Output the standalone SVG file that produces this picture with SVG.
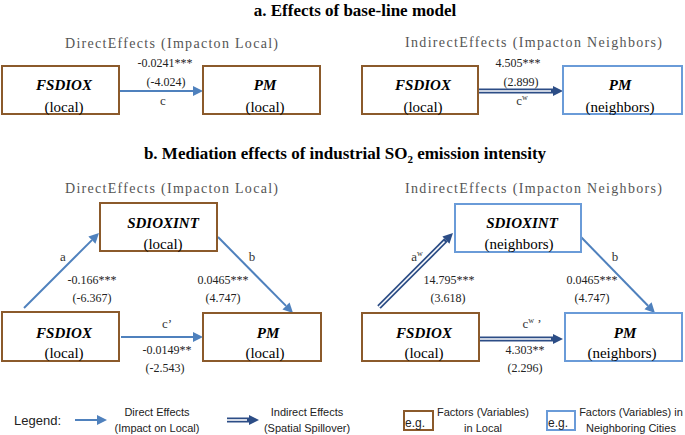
<svg xmlns="http://www.w3.org/2000/svg" width="685" height="435" viewBox="0 0 685 435">
<style>
.title{font-family:"Liberation Serif","Times New Roman","DejaVu Serif",serif;font-weight:bold;font-size:17px;fill:#000;text-anchor:middle}
.head{font-family:"Liberation Serif","Times New Roman","DejaVu Serif",serif;font-size:14px;fill:#555}
.nm{font-family:"Liberation Serif","Times New Roman","DejaVu Serif",serif;font-weight:bold;font-style:italic;font-size:15px;fill:#000;text-anchor:middle}
.sub{font-family:"Liberation Serif","Times New Roman","DejaVu Serif",serif;font-size:15px;fill:#000;text-anchor:middle}
.num{font-family:"Liberation Serif","Times New Roman","DejaVu Serif",serif;font-size:12px;fill:#222;text-anchor:middle}
.lab{font-family:"Liberation Serif","Times New Roman","DejaVu Serif",serif;font-size:13px;fill:#333;text-anchor:middle}
.leg{font-family:"Liberation Sans",Arial,sans-serif;font-size:11px;fill:#222;text-anchor:middle}
.eg{font-family:"Liberation Sans",Arial,sans-serif;font-size:12px;fill:#222}
.loc{fill:#fff;stroke:#8b5a2b;stroke-width:2}
.nbr{fill:#fff;stroke:#6a9bd8;stroke-width:2}
.dir{fill:none;stroke:#4f81bd;stroke-width:2}
.ind{fill:none;stroke:#2c4d86;stroke-width:5}
.indw{fill:none;stroke:#fff;stroke-width:1.6}
</style>
<defs>
<marker id="hb" markerUnits="userSpaceOnUse" viewBox="0 -5 10 10" markerWidth="10" markerHeight="10" refX="0" refY="0" orient="auto" overflow="visible"><path d="M0,-5 L10,0 L0,5 z" fill="#4f81bd"/></marker>
<marker id="hd" markerUnits="userSpaceOnUse" viewBox="0 -5 10 10" markerWidth="10" markerHeight="10" refX="0" refY="0" orient="auto" overflow="visible"><path d="M0,-5 L10,0 L0,5 z" fill="#2c4d86"/></marker>
</defs>

<text class="title" x="355" y="16">a. Effects of base-line model</text>
<text class="title" x="345" y="159">b. Mediation effects of industrial SO<tspan font-size="11" dy="4">2</tspan><tspan dy="-4"> emission intensity</tspan></text>

<text class="head" x="65" y="48" textLength="213">DirectEffects (Impacton Local)</text>
<text class="head" x="405" y="47" textLength="257">IndirectEffects (Impacton Neighbors)</text>
<text class="head" x="65" y="193" textLength="213">DirectEffects (Impacton Local)</text>
<text class="head" x="405" y="193" textLength="257">IndirectEffects (Impacton Neighbors)</text>

<g id="connectors">
<path class="dir" d="M120,91 L193,91" marker-end="url(#hb)"/>
<path class="ind" d="M479,91 L553,91" marker-end="url(#hd)"/>
<path class="indw" d="M479,91 L551,91"/>
<path class="dir" d="M24,308 L91.9,240.1" marker-end="url(#hb)"/>
<path class="dir" d="M218,237 L286,305.9" marker-end="url(#hb)"/>
<path class="dir" d="M121,337 L193,337" marker-end="url(#hb)"/>
<path class="ind" d="M379,307 L445.9,240.1" marker-end="url(#hd)"/>
<path class="indw" d="M379,307 L444.5,241.5"/>
<path class="dir" d="M581,237 L648,305.8" marker-end="url(#hb)"/>
<path class="ind" d="M480,339 L553,339" marker-end="url(#hd)"/>
<path class="indw" d="M480,339 L551,339"/>
<path class="dir" d="M75,420 L97,420" marker-end="url(#hb)"/>
<path class="ind" d="M227,420 L249,420" marker-end="url(#hd)"/>
<path class="indw" d="M227,420 L247,420"/>
</g>

<g id="a-fsdiox-local"><rect class="loc" x="2" y="66" width="117" height="48"/><text class="nm" x="64" y="90">FSDIOX</text><text class="sub" x="64" y="112">(local)</text></g>
<g id="a-pm-local"><rect class="loc" x="203" y="66" width="117" height="48"/><text class="nm" x="265" y="90">PM</text><text class="sub" x="265" y="112">(local)</text></g>
<g id="a-fsdiox-local2"><rect class="loc" x="362" y="66" width="116" height="48"/><text class="nm" x="423" y="90">FSDIOX</text><text class="sub" x="423" y="112">(local)</text></g>
<g id="a-pm-neighbors"><rect class="nbr" x="563" y="66" width="119" height="48"/><text class="nm" x="620" y="90">PM</text><text class="sub" x="620" y="112">(neighbors)</text></g>

<g id="b-sdioxint-local"><rect class="loc" x="100" y="203" width="117" height="48"/><text class="nm" x="163" y="228">SDIOXINT</text><text class="sub" x="163" y="249">(local)</text></g>
<g id="b-fsdiox-local"><rect class="loc" x="2" y="312" width="117" height="49"/><text class="nm" x="64" y="338">FSDIOX</text><text class="sub" x="64" y="358">(local)</text></g>
<g id="b-pm-local"><rect class="loc" x="203" y="313" width="118" height="48"/><text class="nm" x="268" y="338">PM</text><text class="sub" x="265" y="358">(local)</text></g>
<g id="b-sdioxint-neighbors"><rect class="nbr" x="455" y="204" width="126" height="48"/><text class="nm" x="522" y="228">SDIOXINT</text><text class="sub" x="519" y="249">(neighbors)</text></g>
<g id="b-fsdiox-local2"><rect class="loc" x="362" y="313" width="117" height="48"/><text class="nm" x="424" y="338">FSDIOX</text><text class="sub" x="424" y="358">(local)</text></g>
<g id="b-pm-neighbors"><rect class="nbr" x="565" y="313" width="117" height="48"/><text class="nm" x="625" y="338">PM</text><text class="sub" x="622" y="358">(neighbors)</text></g>

<text class="num" x="165" y="67">-0.0241***</text>
<text class="num" x="166" y="86">(-4.024)</text>
<text class="lab" x="163" y="105">c</text>
<text class="num" x="518" y="67">4.505***</text>
<text class="num" x="521" y="86">(2.899)</text>
<text class="lab" x="522" y="105">c<tspan font-size="8" dy="-5">w</tspan></text>

<text class="lab" x="63" y="261">a</text>
<text class="lab" x="252" y="261">b</text>
<text class="num" x="92" y="284">-0.166***</text>
<text class="num" x="92" y="302">(-6.367)</text>
<text class="num" x="223" y="284">0.0465***</text>
<text class="num" x="223" y="302">(4.747)</text>
<text class="lab" x="167" y="328">c’</text>
<text class="num" x="167" y="354">-0.0149**</text>
<text class="num" x="165" y="372">(-2.543)</text>

<text class="lab" x="417" y="261">a<tspan font-size="8" dy="-5">w</tspan></text>
<text class="lab" x="615" y="261">b</text>
<text class="num" x="449" y="284">14.795***</text>
<text class="num" x="448" y="302">(3.618)</text>
<text class="num" x="592" y="284">0.0465***</text>
<text class="num" x="592" y="302">(4.747)</text>
<text class="lab" x="532" y="328">c<tspan font-size="8" dy="-5">w</tspan><tspan dy="5"> ’</tspan></text>
<text class="num" x="525" y="354">4.303**</text>
<text class="num" x="525" y="372">(2.296)</text>

<g id="legend">
<text x="14" y="425" font-family="Liberation Sans, Arial, sans-serif" font-size="13" fill="#222">Legend:</text>
<text class="leg" x="157" y="416">Direct Effects</text>
<text class="leg" x="157" y="432">(Impact on Local)</text>
<text class="leg" x="307" y="416">Indirect Effects</text>
<text class="leg" x="307" y="432">(Spatial Spillover)</text>
<rect class="loc" x="404" y="411" width="29" height="19"/>
<text class="eg" x="405" y="427">e.g.</text>
<text class="leg" x="483" y="416">Factors (Variables)</text>
<text class="leg" x="483" y="432">in Local</text>
<rect class="nbr" x="547" y="411" width="28" height="19"/>
<text class="eg" x="548" y="427">e.g.</text>
<text class="leg" x="631" y="416">Factors (Variables) in</text>
<text class="leg" x="631" y="432">Neighboring Cities</text>
</g>
</svg>
